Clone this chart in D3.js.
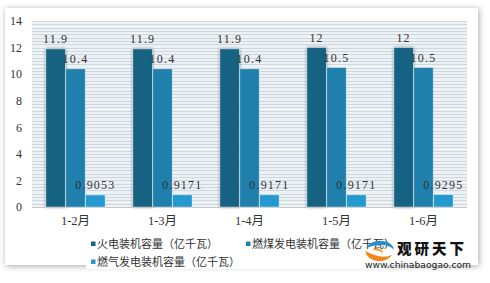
<!DOCTYPE html>
<html><head><meta charset="utf-8">
<script src="https://cdn.jsdelivr.net/npm/d3@7"></script>
<style>html,body{margin:0;padding:0;background:#fff;}svg{display:block;}</style>
</head><body>
<svg id="c" width="490" height="283"></svg>
<script>
const categories = ["1-2月","1-3月","1-4月","1-5月","1-6月"];
const seriesNames = ["火电装机容量（亿千瓦）","燃煤发电装机容量（亿千瓦）","燃气发电装机容量（亿千瓦）"];
const thermal = [11.9, 11.9, 11.9, 12, 12];
const coal = [10.4, 10.4, 10.4, 10.5, 10.5];
const gas = [0.9053, 0.9171, 0.9171, 0.9171, 0.9295];
const yTicks = [0,2,4,6,8,10,12,14];
const colors = ["#176282","#1f80ad","#2399cf"];
const series = [thermal, coal, gas];

const svg = d3.select("#c");
const defs = svg.append("defs");
const f = defs.append("filter").attr("id","sh").attr("x","-5%").attr("y","-5%").attr("width","110%").attr("height","110%");
f.append("feDropShadow").attr("dx",1).attr("dy",1).attr("stdDeviation",3).attr("flood-color","#000").attr("flood-opacity",0.35);
const f2 = defs.append("filter").attr("id","bsh").attr("x","-30%").attr("y","-10%").attr("width","160%").attr("height","120%");
f2.append("feDropShadow").attr("dx",0).attr("dy",0).attr("stdDeviation",1.5).attr("flood-color","#000").attr("flood-opacity",0.45);

// card
svg.append("rect").attr("x",5).attr("y",8).attr("width",473).attr("height",257).attr("fill","#fff").attr("filter","url(#sh)");

const pLeft = 32, pRight = 467, pTop = 21, pBottom = 207;
const y = d3.scaleLinear().domain([0,14]).range([pBottom, pTop]);
const x0 = d3.scaleBand().domain(categories).range([pLeft, pRight]).paddingInner(0.31).paddingOuter(0.155);
const x1 = d3.scaleBand().domain([0,1,2]).range([0, x0.bandwidth()]).padding(0.02);

// plot background
svg.append("rect").attr("x",pLeft).attr("y",pTop).attr("width",pRight-pLeft).attr("height",pBottom-pTop).attr("fill","#edf2f6");
const fine = d3.range(0, 14.001, 0.25);
svg.append("g").selectAll("line").data(fine).join("line")
  .attr("x1",pLeft).attr("x2",pRight).attr("y1",d=>Math.round(y(d))+0.5).attr("y2",d=>Math.round(y(d))+0.5)
  .attr("stroke","#cfd7de").attr("stroke-width",1);

// y axis labels
const yAxis = d3.axisLeft(y).tickValues(yTicks).tickSize(0).tickPadding(10);
const ga = svg.append("g").attr("transform",`translate(${pLeft},0)`).call(yAxis);
ga.select(".domain").remove();
ga.selectAll("text").attr("font-family","'Liberation Serif','DejaVu Serif',serif").attr("font-size",12).attr("fill","#333");

// baseline
svg.append("line").attr("x1",pLeft).attr("x2",pRight).attr("y1",pBottom+0.5).attr("y2",pBottom+0.5).attr("stroke","#c8c8c8");

// bars
const groups = svg.append("g").selectAll("g").data(categories).join("g")
  .attr("transform",d=>`translate(${x0(d)},0)`);
series.forEach((s,si)=>{
  groups.append("rect")
    .attr("x",x1(si)).attr("width",x1.bandwidth())
    .attr("y",(d,i)=>y(s[i])).attr("height",(d,i)=>pBottom-y(s[i]))
    .attr("fill",colors[si]).attr("stroke","#ffffff").attr("stroke-opacity",0.5).attr("stroke-width",0.8)
    .attr("filter", si===0 ? "url(#bsh)" : null);
});
series.forEach((s,si)=>{
  groups.append("text")
    .attr("x",x1(si)+x1.bandwidth()/2).attr("y",(d,i)=>y(s[i])-6)
    .attr("text-anchor","middle")
    .attr("font-family","'Liberation Serif','DejaVu Serif',serif").attr("font-size",12).attr("fill","#333")
    .attr("letter-spacing",1.2)
    .text((d,i)=>String(s[i]));
});

// x axis labels
const xAxis = d3.axisBottom(x0).tickSize(0).tickPadding(9);
const gx = svg.append("g").attr("transform",`translate(0,${pBottom})`).call(xAxis);
gx.select(".domain").remove();
gx.selectAll("text").attr("font-family","'Liberation Serif','Noto Sans CJK SC',serif").attr("font-size",12.5).attr("fill","#333");

// legend
const lg = svg.append("g");
lg.append("rect").attr("x",86).attr("y",234).attr("width",300).attr("height",35).attr("fill","#fff");
const legPos = [[91,244],[246,244],[91,262]];
seriesNames.forEach((n,i)=>{
  const [lx,ly] = legPos[i];
  lg.append("rect").attr("x",lx).attr("y",ly-2.5).attr("width",4.5).attr("height",4.5).attr("fill",colors[i]);
  lg.append("text").attr("x",lx+6).attr("y",ly+4).attr("font-family","'Noto Sans CJK SC',sans-serif").attr("font-size",11).attr("fill","#333").text(n);
});

// watermark logo
const lo = svg.append("g");
lo.append("path").attr("d","M366,248 q6,-9 18,-7 q9,2 10,9 q-4,-5 -13,-5 q-8,0 -15,3z").attr("fill","#2a8fc8");
lo.append("path").attr("d","M365,251 q2,8 12,10 q10,1 15,-6 q-6,3 -14,1 q-7,-2 -13,-5z").attr("fill","#f08a1c");
lo.append("path").attr("d","M372,250 q5,-3 10,0 q2,3 -2,5 q4,-3 -1,-4 q-4,-1 -7,-1z").attr("fill","#f5a623");
lo.append("text").attr("x",397).attr("y",254).attr("font-family","'Noto Sans CJK SC',sans-serif").attr("font-weight",900).attr("font-size",14.5).attr("letter-spacing",3).attr("fill","#111").text("观研天下");
lo.append("text").attr("x",365).attr("y",267.5).attr("font-family","'DejaVu Sans',sans-serif").attr("font-size",9.2).attr("fill","#222").text("www.chinabaogao.com");
</script>
</body></html>
